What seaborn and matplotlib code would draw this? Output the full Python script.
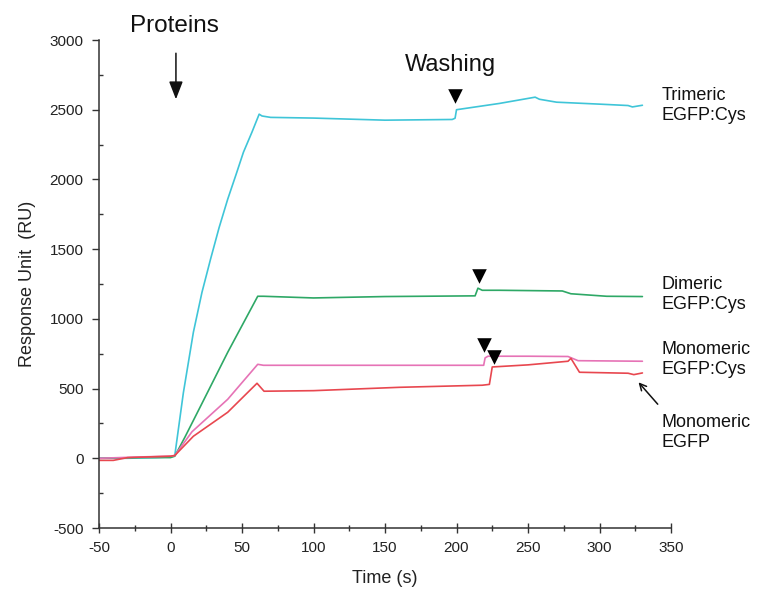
import numpy as np
import pandas as pd
import matplotlib
matplotlib.use("Agg")
import matplotlib.pyplot as plt
import seaborn as sns
from matplotlib.ticker import MultipleLocator

# ---- data ----
tri_t = [-50, -30, -10, 0, 3, 9, 16, 22, 28, 34, 40, 46, 51, 57, 62, 64, 70, 100, 150, 197, 199, 200, 230, 255, 258, 270, 300, 320, 323, 330]
tri_y = [0, 0, 5, 10, 20, 470, 904, 1190, 1428, 1655, 1858, 2040, 2195, 2340, 2468, 2455, 2445, 2440, 2425, 2430, 2439, 2500, 2545, 2590, 2575, 2554, 2540, 2530, 2520, 2532]

di_t = [-50, -20, 0, 3, 10, 21, 40, 61, 65, 100, 150, 213, 215, 218, 230, 274, 280, 305, 330]
di_y = [0, 5, 5, 15, 150, 373, 760, 1162, 1162, 1150, 1160, 1165, 1220, 1205, 1205, 1200, 1180, 1162, 1160]

mc_t = [-50, -20, 0, 3, 15, 40, 61, 65, 150, 219, 220, 222, 250, 278, 285, 330]
mc_y = [0, 10, 15, 20, 190, 423, 674, 667, 667, 667, 720, 732, 732, 730, 700, 696]

me_t = [-50, -40, -30, 0, 3, 16, 40, 60.5, 65.4, 100, 160, 218, 223, 225, 250, 278, 280, 286, 320, 324, 330]
me_y = [-15, -15, 5, 15, 20, 158, 330, 538, 481, 485, 509, 524, 530, 655, 670, 696, 717, 617, 610, 600, 612]

series_names = ["Trimeric EGFP:Cys", "Dimeric EGFP:Cys", "Monomeric EGFP:Cys", "Monomeric EGFP"]
series_labels = ["Trimeric\nEGFP:Cys", "Dimeric\nEGFP:Cys", "Monomeric\nEGFP:Cys", "Monomeric\nEGFP"]
label_y = [2530, 1176, 707, 183]
colors = ["#3fc5d8", "#2ea866", "#e673b6", "#e8474f"]

# washing markers (triangles)
wash_x = [199, 215.7, 219, 226]
wash_y = [2597, 1306, 811, 725]

x_ticks = [-50, 0, 50, 100, 150, 200, 250, 300, 350]
y_ticks = [-500, 0, 500, 1000, 1500, 2000, 2500, 3000]

frames = []
for name, t, y in zip(series_names, [tri_t, di_t, mc_t, me_t], [tri_y, di_y, mc_y, me_y]):
    frames.append(pd.DataFrame({"Time": t, "RU": y, "series": name}))
df = pd.concat(frames, ignore_index=True)

sns.set_theme(style="white")
plt.rcParams["font.family"] = ["Liberation Sans", "DejaVu Sans"]
plt.rcParams["axes.unicode_minus"] = False

fig = plt.figure(figsize=(7.57, 6.04), dpi=100)
ax = fig.add_axes([99/757, 1-528/604, (671-99)/757, (528-40)/604])

sns.lineplot(data=df, x="Time", y="RU", hue="series", hue_order=series_names,
             palette=dict(zip(series_names, colors)), sort=False, estimator=None,
             legend=False, linewidth=1.2, ax=ax)

ax.scatter(wash_x, wash_y, marker="v", s=110, color="black", zorder=5, linewidths=0)

ax.set_xlim(-50, 350)
ax.set_ylim(-500, 3000)
ax.set_xticks(x_ticks)
ax.set_yticks(y_ticks)
ax.xaxis.set_minor_locator(MultipleLocator(25))
ax.yaxis.set_minor_locator(MultipleLocator(250))
for s in ["top", "right"]:
    ax.spines[s].set_visible(False)
for s in ["left", "bottom"]:
    ax.spines[s].set_color("#333333")
    ax.spines[s].set_linewidth(1.1)
ax.tick_params(axis="x", which="major", direction="inout", length=7, width=1, color="#333333",
               labelsize=11, pad=6, labelcolor="#222222")
ax.tick_params(axis="x", which="minor", direction="inout", length=4, width=1, color="#333333")
ax.tick_params(axis="y", which="major", direction="out", length=5, width=1, color="#333333",
               labelsize=11, pad=6, labelcolor="#222222", left=True)
ax.tick_params(axis="y", which="minor", direction="in", length=3, width=1, color="#333333", left=True)
ax.tick_params(axis="x", bottom=True, which="both")

ax.set_xlabel("Time (s)", fontsize=13, labelpad=11, color="#222222")
ax.set_ylabel("Response Unit  (RU)", fontsize=13, labelpad=10, color="#222222")

for lab, yy in zip(series_labels, label_y):
    ax.text(343.7, yy, lab, fontsize=13, va="center", ha="left", linespacing=1.25,
            clip_on=False, color="#111111")

ax.annotate("", xy=(326, 560), xytext=(342, 373), annotation_clip=False,
            arrowprops=dict(arrowstyle="->", color="#111111", lw=1.1))

ax.text(195.5, 2776, "Washing", fontsize=17, ha="center", va="baseline", clip_on=False, color="#111111")
ax.text(3.1, 3056, "Proteins", fontsize=17.5, ha="center", va="baseline", clip_on=False, color="#111111")
ax.annotate("", xy=(3.8, 2555), xytext=(3.8, 2925), annotation_clip=False,
            arrowprops=dict(arrowstyle="-|>,head_width=0.35,head_length=0.9", color="#111111", lw=1.1))

fig.savefig("out.png", dpi=100)
